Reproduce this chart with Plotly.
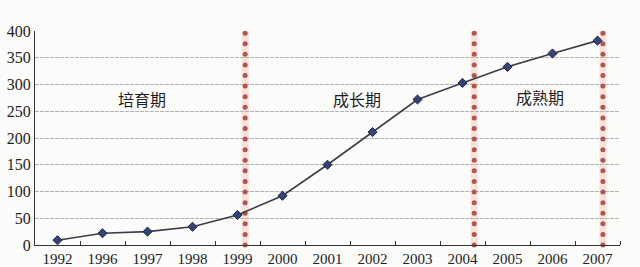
import numpy as np
import plotly.graph_objects as go

years = ["1992", "1996", "1997", "1998", "1999", "2000", "2001",
         "2002", "2003", "2004", "2005", "2006", "2007"]
values = [9, 22, 25, 34, 56, 92, 150, 211, 272, 303, 333, 358, 382]

y_ticks = [0, 50, 100, 150, 200, 250, 300, 350, 400]

# stage boundaries (category index positions) and stage labels
boundaries = [4.17, 9.26, 12.12]
stage_labels = ["培育期", "成长期", "成熟期"]
stage_x = [1.88, 6.66, 10.72]
stage_y = [273, 273, 277]

idx = list(range(len(years)))

fig = go.Figure()

# dotted stage boundary lines
dot_y = np.arange(0, 440, 19.8)
for b in boundaries:
    fig.add_shape(type="line", xref="x", yref="y", x0=b, x1=b,
                  y0=0, y1=436, line=dict(color="#f8e2da", width=7),
                  layer="below")
    fig.add_trace(go.Scatter(
        x=[b] * len(dot_y), y=dot_y, mode="markers",
        marker=dict(symbol="circle", size=5, color="#b4544c", line=dict(width=0)),
        showlegend=False, cliponaxis=False, hoverinfo="skip",
    ))

fig.add_trace(go.Scatter(
    x=idx, y=values, mode="lines+markers",
    line=dict(color="#3c3c4a", width=1.6),
    marker=dict(symbol="diamond", size=7, color="#34447a",
                line=dict(color="#22243a", width=1)),
    showlegend=False, cliponaxis=False,
))

for t, xx, yy in zip(stage_labels, stage_x, stage_y):
    fig.add_annotation(x=xx, y=yy, xref="x", yref="y", text=t, showarrow=False,
                       font=dict(family="Noto Sans CJK SC", size=16, color="#1e1e1e"))

fig.update_layout(
    width=640, height=267,
    margin=dict(l=35, r=20, t=31, b=22),
    paper_bgcolor="#fcfcfb", plot_bgcolor="#fcfcfb",
    font=dict(family="Liberation Serif", size=14, color="#222"),
)
fig.update_xaxes(
    range=[-0.5, 12.5], tickvals=idx, ticktext=years, showgrid=False,
    zeroline=False, automargin=False,
    showline=True, linecolor="#333", linewidth=1.2,
    ticks="", ticklabelstandoff=0,
    minor=dict(tickvals=[i + 0.5 for i in idx], ticks="inside", ticklen=4,
               tickcolor="#333", showgrid=False),
    tickfont=dict(family="Liberation Serif", size=15, color="#222"),
)
fig.update_yaxes(
    range=[0, 400], tickvals=y_ticks, showgrid=True, automargin=False,
    gridcolor="#b4b4b4", gridwidth=1, griddash="4px,1px",
    showline=True, linecolor="#333", linewidth=1.2,
    ticks="", zeroline=False,
    tickfont=dict(family="Liberation Serif", size=16, color="#222"),
)

fig.write_html("out.html")
